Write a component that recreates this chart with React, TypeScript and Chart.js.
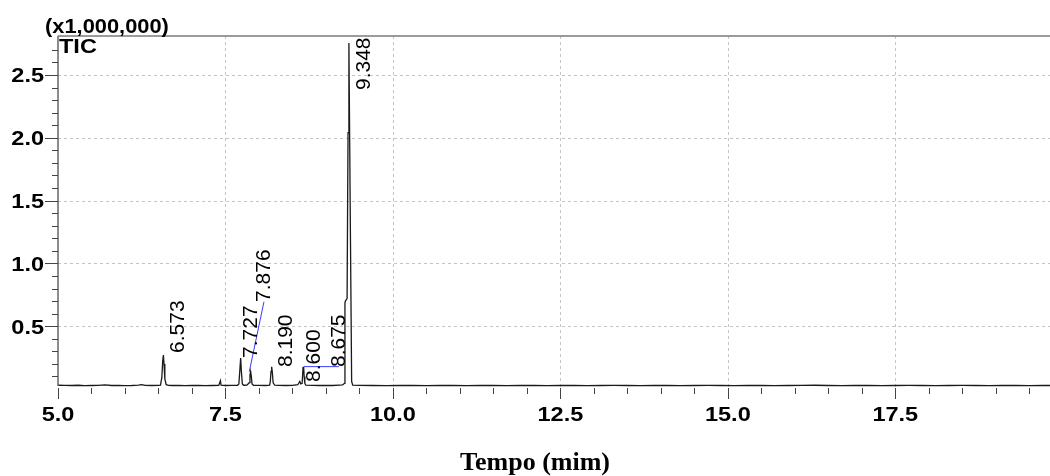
import React, { useEffect, useRef } from 'react';
import { Chart, registerables } from 'chart.js';

Chart.register(...registerables);

// Chromatogram samples (retention time in minutes, intensity in x1,000,000)
const retentionTimes = [
  5.0, 5.1, 5.2, 5.3, 5.4, 5.5, 5.6, 5.7, 5.8, 5.9, 6.0, 6.1, 6.2, 6.25, 6.3, 6.4, 6.5,
  6.53, 6.55, 6.563, 6.573, 6.583, 6.595, 6.615, 6.65,
  6.7, 6.8, 6.9, 7.0, 7.1, 7.2, 7.3, 7.4, 7.425, 7.435, 7.5, 7.6, 7.68,
  7.70, 7.715, 7.727, 7.738, 7.752, 7.77, 7.82,
  7.855, 7.866, 7.876, 7.886, 7.897, 7.92,
  8.0, 8.1, 8.16, 8.17, 8.18, 8.19, 8.20, 8.212, 8.235,
  8.3, 8.4, 8.5, 8.58, 8.61, 8.625, 8.645, 8.658, 8.667, 8.675, 8.685, 8.70,
  8.8, 8.9, 9.0, 9.1, 9.2, 9.25, 9.278,
  9.284, 9.29, 9.316, 9.33, 9.343, 9.365, 9.384, 9.40,
  9.5, 9.7, 9.9, 10.1, 10.3, 10.5, 10.7, 10.9, 11.1, 11.3, 11.5, 11.7, 11.9,
  12.1, 12.3, 12.5, 12.7, 12.9, 13.1, 13.3, 13.5, 13.7, 13.9, 14.1, 14.3, 14.5,
  14.7, 14.9, 15.1, 15.3, 15.5, 15.7, 15.9, 16.1, 16.3, 16.5, 16.7, 16.9, 17.1,
  17.3, 17.5, 17.7, 17.9, 18.1, 18.3, 18.5, 18.7, 18.9, 19.1, 19.3, 19.5, 19.7, 19.81,
];

const intensities = [
  0.030, 0.029, 0.028, 0.030, 0.027, 0.028, 0.029, 0.033, 0.028, 0.029, 0.027, 0.028, 0.031, 0.034, 0.029, 0.028, 0.029,
  0.031, 0.09, 0.22, 0.27, 0.20, 0.08, 0.034, 0.029,
  0.028, 0.029, 0.027, 0.028, 0.029, 0.027, 0.028, 0.029, 0.066, 0.030, 0.028, 0.029, 0.030,
  0.04, 0.15, 0.247, 0.14, 0.04, 0.030, 0.031,
  0.05, 0.11, 0.14, 0.10, 0.04, 0.030,
  0.029, 0.028, 0.030, 0.06, 0.14, 0.177, 0.13, 0.05, 0.030,
  0.029, 0.028, 0.029, 0.034, 0.06, 0.04, 0.045, 0.17, 0.178, 0.10, 0.045, 0.030,
  0.029, 0.028, 0.029, 0.028, 0.031, 0.033, 0.045,
  0.685, 0.70, 0.72, 2.04, 2.755, 1.28, 0.06, 0.030,
  0.029, 0.028, 0.027, 0.029, 0.028, 0.027, 0.028, 0.029, 0.027, 0.028, 0.029, 0.027, 0.028,
  0.029, 0.027, 0.028, 0.029, 0.027, 0.028, 0.029, 0.028, 0.027, 0.028, 0.029, 0.027, 0.028,
  0.029, 0.028, 0.027, 0.028, 0.029, 0.027, 0.028, 0.029, 0.030, 0.028, 0.027, 0.028, 0.029,
  0.027, 0.028, 0.029, 0.028, 0.027, 0.028, 0.029, 0.028, 0.027, 0.029, 0.028, 0.027, 0.028, 0.028,
];

const xTickValues = [5, 7.5, 10, 12.5, 15, 17.5];
const xTickLabels = ['5.0', '7.5', '10.0', '12.5', '15.0', '17.5'];
const yTickValues = [0.5, 1.0, 1.5, 2.0, 2.5];
const yTickLabels = ['0.5', '1.0', '1.5', '2.0', '2.5'];

const peakLabelTexts = ['6.573', '7.727', '7.876', '8.190', '8.600', '8.675', '9.348'];
const peakLabelTimes = [6.772, 7.866, 8.06, 8.388, 8.806, 9.179, 9.548];
const peakLabelBases = [0.287, 0.247, 0.693, 0.175, 0.056, 0.175, 2.38];

// leader lines: [t1, v1, t2, v2]
const leaderLines = [
  [7.856, 0.138, 8.075, 0.695],
  [8.672, 0.178, 9.194, 0.178],
];

const X_MIN = 5;
const X_MAX = 19.81;
const Y_MIN = 0;
const Y_MAX = 2.81;

const SANS_BOLD = 'bold 21px "Liberation Sans", Arial, sans-serif';

function stretchedText(ctx: CanvasRenderingContext2D, txt: string, x: number, y: number, align: 'left' | 'right' | 'center', stretch: number) {
  const w = ctx.measureText(txt).width * stretch;
  let left = x;
  if (align === 'right') left = x - w;
  else if (align === 'center') left = x - w / 2;
  ctx.save();
  ctx.textAlign = 'left';
  ctx.translate(left, y);
  ctx.scale(stretch, 1);
  ctx.fillText(txt, 0, 0);
  ctx.restore();
}

const decorPlugin = {
  id: 'decor',
  beforeDatasetsDraw(chart: any) {
    const { ctx, chartArea, scales } = chart;
    const xs = scales.x;
    const ys = scales.y;
    ctx.save();
    ctx.strokeStyle = '#c4c4c4';
    ctx.lineWidth = 1;
    ctx.setLineDash([3, 3]);
    xTickValues.forEach((v) => {
      if (v === X_MIN) return;
      const px = Math.round(xs.getPixelForValue(v)) + 0.5;
      ctx.beginPath();
      ctx.moveTo(px, chartArea.top);
      ctx.lineTo(px, chartArea.bottom);
      ctx.stroke();
    });
    yTickValues.forEach((v) => {
      const py = Math.round(ys.getPixelForValue(v)) + 0.5;
      ctx.beginPath();
      ctx.moveTo(chartArea.left, py);
      ctx.lineTo(chartArea.right, py);
      ctx.stroke();
    });
    ctx.restore();
  },
  afterDatasetsDraw(chart: any) {
    const { ctx, chartArea, scales } = chart;
    const xs = scales.x;
    const ys = scales.y;
    ctx.save();
    ctx.setLineDash([]);

    // frame
    ctx.strokeStyle = '#7a7a7a';
    ctx.lineWidth = 1.5;
    ctx.beginPath();
    ctx.moveTo(chartArea.left, chartArea.top);
    ctx.lineTo(chartArea.right, chartArea.top);
    ctx.stroke();
    ctx.strokeStyle = '#666';
    ctx.lineWidth = 1.5;
    ctx.beginPath();
    ctx.moveTo(chartArea.left, chartArea.top);
    ctx.lineTo(chartArea.left, chartArea.bottom - 3);
    ctx.stroke();

    // y ticks (minor every 0.1)
    ctx.strokeStyle = '#444';
    ctx.lineWidth = 1;
    for (let i = 1; i <= 27; i++) {
      const v = i / 10;
      const py = Math.round(ys.getPixelForValue(v)) + 0.5;
      const major = i % 5 === 0;
      ctx.beginPath();
      ctx.moveTo(chartArea.left - (major ? 13 : 6), py);
      ctx.lineTo(chartArea.left, py);
      ctx.stroke();
    }
    // x ticks (minor every 0.5)
    for (let i = 0; i <= 29; i++) {
      const v = X_MIN + i * 0.5;
      const px = Math.round(xs.getPixelForValue(v)) + 0.5;
      const major = i % 5 === 0;
      ctx.beginPath();
      ctx.moveTo(px, chartArea.bottom - 1);
      ctx.lineTo(px, chartArea.bottom + (major ? 10 : 5));
      ctx.stroke();
    }

    // tick labels
    ctx.fillStyle = '#000';
    ctx.font = SANS_BOLD;
    ctx.textBaseline = 'alphabetic';
    yTickValues.forEach((v, i) => {
      const py = ys.getPixelForValue(v);
      stretchedText(ctx, yTickLabels[i], chartArea.left - 14, py + 7.5, 'right', 1.12);
    });
    xTickValues.forEach((v, i) => {
      const px = xs.getPixelForValue(v);
      stretchedText(ctx, xTickLabels[i], px, chartArea.bottom + 32, 'center', 1.12);
    });

    // headers
    stretchedText(ctx, '(x1,000,000)', 45, 33, 'left', 1.04);
    stretchedText(ctx, 'TIC', chartArea.left + 1, 53, 'left', 1.12);

    // axis title
    ctx.textAlign = 'center';
    ctx.font = 'bold 26px "Liberation Serif", "Times New Roman", serif';
    ctx.fillText('Tempo (mim)', 535, 470);

    // leader lines
    ctx.strokeStyle = '#3a3aff';
    ctx.lineWidth = 1;
    leaderLines.forEach(([t1, v1, t2, v2]) => {
      ctx.beginPath();
      ctx.moveTo(xs.getPixelForValue(t1), ys.getPixelForValue(v1));
      ctx.lineTo(xs.getPixelForValue(t2), ys.getPixelForValue(v2));
      ctx.stroke();
    });

    // peak labels (rotated)
    ctx.fillStyle = '#000';
    ctx.font = '21px "Liberation Sans", Arial, sans-serif';
    ctx.textAlign = 'left';
    ctx.textBaseline = 'alphabetic';
    peakLabelTexts.forEach((txt, i) => {
      const px = xs.getPixelForValue(peakLabelTimes[i]);
      const py = ys.getPixelForValue(peakLabelBases[i]);
      ctx.save();
      ctx.translate(px, py);
      ctx.rotate(-Math.PI / 2);
      ctx.fillText(txt, 0, 7.5);
      ctx.restore();
    });

    ctx.restore();
  },
};

export default function App() {
  const canvasRef = useRef<HTMLCanvasElement | null>(null);

  useEffect(() => {
    if (!canvasRef.current) return;
    const points = retentionTimes.map((t, i) => ({ x: t, y: intensities[i] }));
    const chart = new Chart(canvasRef.current, {
      type: 'line',
      data: {
        datasets: [
          {
            data: points,
            borderColor: '#1a1a1a',
            borderWidth: 1.3,
            pointRadius: 0,
            tension: 0,
            fill: false,
          },
        ],
      },
      options: {
        responsive: false,
        animation: false,
        devicePixelRatio: 1,
        layout: { padding: { left: 58, top: 36, right: 0, bottom: 87 } },
        plugins: {
          legend: { display: false },
          tooltip: { enabled: false },
        },
        scales: {
          x: { type: 'linear', min: X_MIN, max: X_MAX, display: false },
          y: { type: 'linear', min: Y_MIN, max: Y_MAX, display: false },
        },
      },
      plugins: [decorPlugin],
    });
    return () => chart.destroy();
  }, []);

  return (
    <div style={{ position: 'absolute', left: 0, top: 0, width: 1050, height: 476, background: '#fff' }}>
      <canvas ref={canvasRef} width={1050} height={476} style={{ width: 1050, height: 476, display: 'block' }} />
    </div>
  );
}
